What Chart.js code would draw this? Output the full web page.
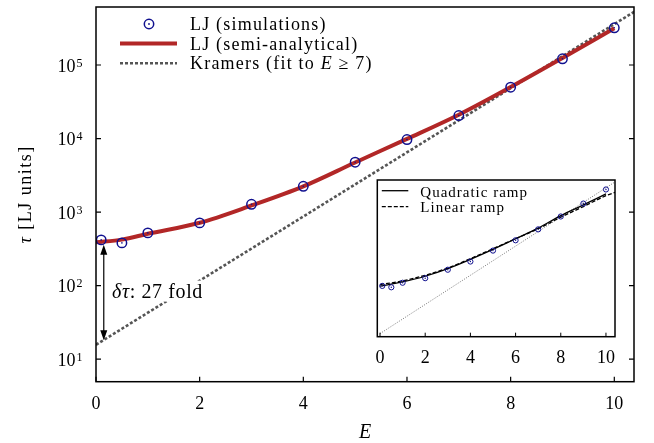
<!DOCTYPE html>
<html>
<head>
<meta charset="utf-8">
<script src="https://cdn.jsdelivr.net/npm/chart.js@4.4.0/dist/chart.umd.min.js"></script>
<style>
  html, body { margin: 0; padding: 0; background: #fff; }
  #wrap { position: relative; width: 654px; height: 443px; }
  #main { position: absolute; left: 0; top: 0; }
  #inset { position: absolute; left: 360px; top: 175px; }
</style>
</head>
<body>
<div id="wrap">
  <canvas id="main" width="654" height="443"></canvas>
  <canvas id="inset" width="270" height="200"></canvas>
</div>
<script>
// Values
const simE = [0.1, 0.5, 1, 2, 3, 4, 5, 6, 7, 8, 9, 10];
const simTau = [419, 381, 521, 713, 1276, 2244, 4766, 9690, 20560, 49900, 121400, 320500];

const semiE = [0, 0.5, 1, 2, 3, 4, 5, 6, 7, 8, 9, 10];
const semiTau = [389, 422, 507, 716, 1230, 2240, 4730, 9890, 21100, 50100, 124500, 316000];

const kramersE = [0, 10.4];
const kramersTau = [15.7, 5.38e5];

// inset curves
const quadE = [0, 1, 2, 3, 4, 5, 6, 7, 8, 9, 10];
const quadTau = [410, 551, 815, 1380, 2612, 5176, 10790, 22280, 53210, 110900, 235500];
const linE = [0, 1, 2, 3, 4, 5, 6, 7, 8, 9, 10, 10.4];
const linTau = [461, 590, 871, 1439, 2735, 5433, 10790, 21380, 47420, 98600, 208900, 263000];

// ticks
const xTicks = [0, 2, 4, 6, 8, 10];
const yTicks = [10, 100, 1000, 10000, 100000];
const insetXTicks = [0, 2, 4, 6, 8, 10];

// annotation (delta tau arrow)
const arrowE = 0.15;
const arrowTop = 361;
const arrowBottom = 18.1;
const noteE = 0.31;
const noteTau = 68.7;

const SERIF = '"Liberation Serif", "DejaVu Serif", serif';
const BLUE = '#10108f';
const RED = '#b22727';
const GREY = '#555';

function pts(xs, ys) {
    return xs.map((v, i) => ({ x: v, y: ys[i] }));
}

// text with several font pieces, left aligned
function drawPieces(ctx, pieces, x, y) {
    pieces.forEach(p => {
        ctx.font = p[1];
        ctx.fillText(p[0], x, y);
        x += ctx.measureText(p[0]).width;
    });
    return x;
}

function setTicks(list) {
    return scale => { scale.ticks = list.map(v => ({ value: v })); };
}

// open circle + the little centre dot (drawn as a second set of points)
function circleSets(r, lw) {
    return [
        { label: 'dot', data: pts(simE, simTau), showLine: false, pointStyle: 'circle',
          pointRadius: Math.max(0.7, r * 0.17), pointBackgroundColor: BLUE, pointBorderWidth: 0 },
        { label: 'sim', data: pts(simE, simTau), showLine: false, pointStyle: 'circle',
          pointRadius: r, pointBorderWidth: lw, pointBorderColor: BLUE, pointBackgroundColor: 'rgba(0,0,0,0)' }
    ];
}

// frame, inward ticks, labels, legend
const mainDecor = {
    id: 'mainDecor',
    afterDatasetsDraw(chart) {
        const { ctx, scales: { x, y } } = chart;
        ctx.save();
        // white box behind the note, then text
        const nx = x.getPixelForValue(noteE);
        const ny = y.getPixelForValue(noteTau);
        ctx.fillStyle = '#fff';
        ctx.fillRect(nx - 3, ny - 17, 99, 21);
        ctx.fillStyle = '#000';
        ctx.letterSpacing = '0.6px';
        ctx.textBaseline = 'alphabetic';
        ctx.textAlign = 'left';
        drawPieces(ctx, [['δτ', 'italic 20px ' + SERIF], [': 27 fold', '20px ' + SERIF]], nx, ny);
        ctx.letterSpacing = '0px';

        // double headed arrow
        const ax = x.getPixelForValue(arrowE);
        const y1 = y.getPixelForValue(arrowTop);
        const y2 = y.getPixelForValue(arrowBottom);
        ctx.strokeStyle = '#000';
        ctx.lineWidth = 1.2;
        ctx.beginPath();
        ctx.moveTo(ax, y1 + 8);
        ctx.lineTo(ax, y2 - 8);
        ctx.stroke();
        ctx.beginPath();
        ctx.moveTo(ax, y1); ctx.lineTo(ax - 3.5, y1 + 10); ctx.lineTo(ax + 3.5, y1 + 10); ctx.closePath();
        ctx.moveTo(ax, y2); ctx.lineTo(ax - 3.5, y2 - 10); ctx.lineTo(ax + 3.5, y2 - 10); ctx.closePath();
        ctx.fill();
        ctx.restore();
    },
    afterDraw(chart) {
        const { ctx, chartArea: a, scales: { x, y } } = chart;
        ctx.save();
        ctx.strokeStyle = '#000';
        ctx.lineWidth = 1.5;
        ctx.strokeRect(a.left, a.top, a.right - a.left, a.bottom - a.top);

        ctx.lineWidth = 1.2;
        ctx.beginPath();
        xTicks.forEach(v => {
            const px = x.getPixelForValue(v);
            ctx.moveTo(px, a.bottom);
            ctx.lineTo(px, a.bottom - 5);
        });
        yTicks.forEach(v => {
            const py = y.getPixelForValue(v);
            ctx.moveTo(a.left, py); ctx.lineTo(a.left + 5, py);
            ctx.moveTo(a.right, py); ctx.lineTo(a.right - 5, py);
        });
        ctx.stroke();

        // y tick labels 10^n
        ctx.fillStyle = '#000';
        ctx.textBaseline = 'alphabetic';
        yTicks.forEach(v => {
            const py = y.getPixelForValue(v);
            ctx.font = '18px ' + SERIF;
            ctx.textAlign = 'right';
            ctx.fillText('10', a.left - 20.5, py + 6.5);
            ctx.font = '12px ' + SERIF;
            ctx.textAlign = 'left';
            ctx.fillText(String(Math.round(Math.log10(v))), a.left - 19.5, py + 1.5);
        });

        // axis titles
        ctx.save();
        ctx.translate(26, (a.top + a.bottom) / 2);
        ctx.rotate(-Math.PI / 2);
        ctx.letterSpacing = '1.5px';
        ctx.textBaseline = 'middle';
        ctx.textAlign = 'left';
        ctx.font = 'italic 18px ' + SERIF;
        const wTau = ctx.measureText('τ').width;
        ctx.font = '18px ' + SERIF;
        const wRest = ctx.measureText(' [LJ units]').width;
        drawPieces(ctx, [['τ', 'italic 18px ' + SERIF], [' [LJ units]', '18px ' + SERIF]], -(wTau + wRest) / 2, 0);
        ctx.restore();

        ctx.font = 'italic 20px ' + SERIF;
        ctx.textAlign = 'center';
        ctx.fillText('E', (a.left + a.right) / 2, 438);

        // legend
        ctx.strokeStyle = BLUE;
        ctx.fillStyle = BLUE;
        ctx.lineWidth = 1.5;
        ctx.beginPath(); ctx.arc(149, 24, 4.7, 0, Math.PI * 2); ctx.stroke();
        ctx.beginPath(); ctx.arc(149, 24, 0.9, 0, Math.PI * 2); ctx.fill();
        ctx.lineWidth = 4;
        ctx.strokeStyle = RED;
        ctx.beginPath(); ctx.moveTo(120, 43.5); ctx.lineTo(177, 43.5); ctx.stroke();
        ctx.lineWidth = 2.6;
        ctx.strokeStyle = GREY;
        ctx.setLineDash([3, 2]);
        ctx.beginPath(); ctx.moveTo(120, 63.3); ctx.lineTo(177, 63.3); ctx.stroke();
        ctx.setLineDash([]);

        ctx.fillStyle = '#000';
        ctx.textAlign = 'left';
        ctx.letterSpacing = '1.2px';
        const f = '18px ' + SERIF;
        drawPieces(ctx, [['LJ (simulations)', f]], 190, 30);
        drawPieces(ctx, [['LJ (semi-analytical)', f]], 190, 49.5);
        drawPieces(ctx, [['Kramers (fit to ', f], ['E', 'italic 18px ' + SERIF], [' ≥ 7)', f]], 190, 69);
        ctx.restore();
    }
};

new Chart(document.getElementById('main'), {
    type: 'scatter',
    data: {
        datasets: [
            ...circleSets(4.7, 1.5),
            { label: 'LJ (semi-analytical)', data: pts(semiE, semiTau), showLine: true, borderColor: RED, borderWidth: 4,
              pointRadius: 0, cubicInterpolationMode: 'monotone' },
            { label: 'Kramers (fit to E ≥ 7)', data: pts(kramersE, kramersTau), showLine: true, borderColor: GREY,
              borderWidth: 2.6, borderDash: [3, 2], pointRadius: 0 }
        ]
    },
    options: {
        responsive: false,
        animation: false,
        devicePixelRatio: 1,
        layout: { padding: { top: 7, right: 20, left: 0, bottom: 0 } },
        plugins: { legend: { display: false }, tooltip: { enabled: false } },
        scales: {
            x: {
                type: 'linear', min: 0, max: 10.38,
                afterBuildTicks: setTicks(xTicks),
                grid: { display: false, drawTicks: false },
                border: { display: false },
                ticks: { color: '#000', font: { family: SERIF, size: 18 }, padding: 12, callback: v => String(v) },
                afterFit: s => { s.height = 61.3; }
            },
            y: {
                type: 'logarithmic', min: 4.94, max: 6.15e5,
                afterBuildTicks: setTicks(yTicks),
                grid: { display: false, drawTicks: false },
                border: { display: false },
                ticks: { display: false },
                afterFit: s => { s.width = 96; }
            }
        }
    },
    plugins: [mainDecor]
});

// inset decorations
const insetDecor = {
    id: 'insetDecor',
    beforeDatasetsDraw(chart) {
        const { ctx, chartArea: a } = chart;
        ctx.save();
        ctx.fillStyle = '#fff';
        ctx.fillRect(a.left, a.top, a.right - a.left, a.bottom - a.top);
        ctx.restore();
    },
    afterDraw(chart) {
        const { ctx, chartArea: a, scales: { x } } = chart;
        ctx.save();
        ctx.strokeStyle = '#000';
        ctx.lineWidth = 1.5;
        ctx.strokeRect(a.left, a.top, a.right - a.left, a.bottom - a.top);
        ctx.lineWidth = 1;
        ctx.beginPath();
        insetXTicks.forEach(v => {
            const px = x.getPixelForValue(v);
            ctx.moveTo(px, a.bottom);
            ctx.lineTo(px, a.bottom - 4);
        });
        ctx.stroke();

        // legend
        ctx.lineWidth = 1.3;
        ctx.beginPath(); ctx.moveTo(a.left + 4.5, 15.7); ctx.lineTo(a.left + 31, 15.7); ctx.stroke();
        ctx.setLineDash([4, 2]);
        ctx.beginPath(); ctx.moveTo(a.left + 4.5, 31.7); ctx.lineTo(a.left + 31, 31.7); ctx.stroke();
        ctx.setLineDash([]);
        ctx.fillStyle = '#000';
        ctx.letterSpacing = '1px';
        ctx.font = '15px ' + SERIF;
        ctx.textAlign = 'left';
        ctx.fillText('Quadratic ramp', a.left + 43, 21.5);
        ctx.fillText('Linear ramp', a.left + 43, 37.3);
        ctx.restore();
    }
};

new Chart(document.getElementById('inset'), {
    type: 'scatter',
    data: {
        datasets: [
            ...circleSets(2.6, 1),
            { label: 'Quadratic ramp', data: pts(quadE, quadTau), showLine: true, borderColor: '#000', borderWidth: 1.3,
              pointRadius: 0, cubicInterpolationMode: 'monotone' },
            { label: 'Linear ramp', data: pts(linE, linTau), showLine: true, borderColor: '#000', borderWidth: 1.3,
              borderDash: [4, 2], pointRadius: 0, cubicInterpolationMode: 'monotone' },
            { label: 'Kramers', data: pts(kramersE, kramersTau), showLine: true, borderColor: '#777', borderWidth: 1,
              borderDash: [1, 1.5], pointRadius: 0 }
        ]
    },
    options: {
        responsive: false,
        animation: false,
        devicePixelRatio: 1,
        layout: { padding: { top: 4.3, right: 15, left: 17.3, bottom: 0 } },
        plugins: { legend: { display: false }, tooltip: { enabled: false } },
        scales: {
            x: {
                type: 'linear', min: -0.12, max: 10.4,
                afterBuildTicks: setTicks(insetXTicks),
                grid: { display: false, drawTicks: false },
                border: { display: false },
                ticks: { color: '#000', font: { family: SERIF, size: 18 }, padding: 11, callback: v => String(v) },
                afterFit: s => { s.height = 38.3; }
            },
            y: { type: 'logarithmic', min: 12.7, max: 6.15e5, display: false }
        }
    },
    plugins: [insetDecor]
});
</script>
</body>
</html>
